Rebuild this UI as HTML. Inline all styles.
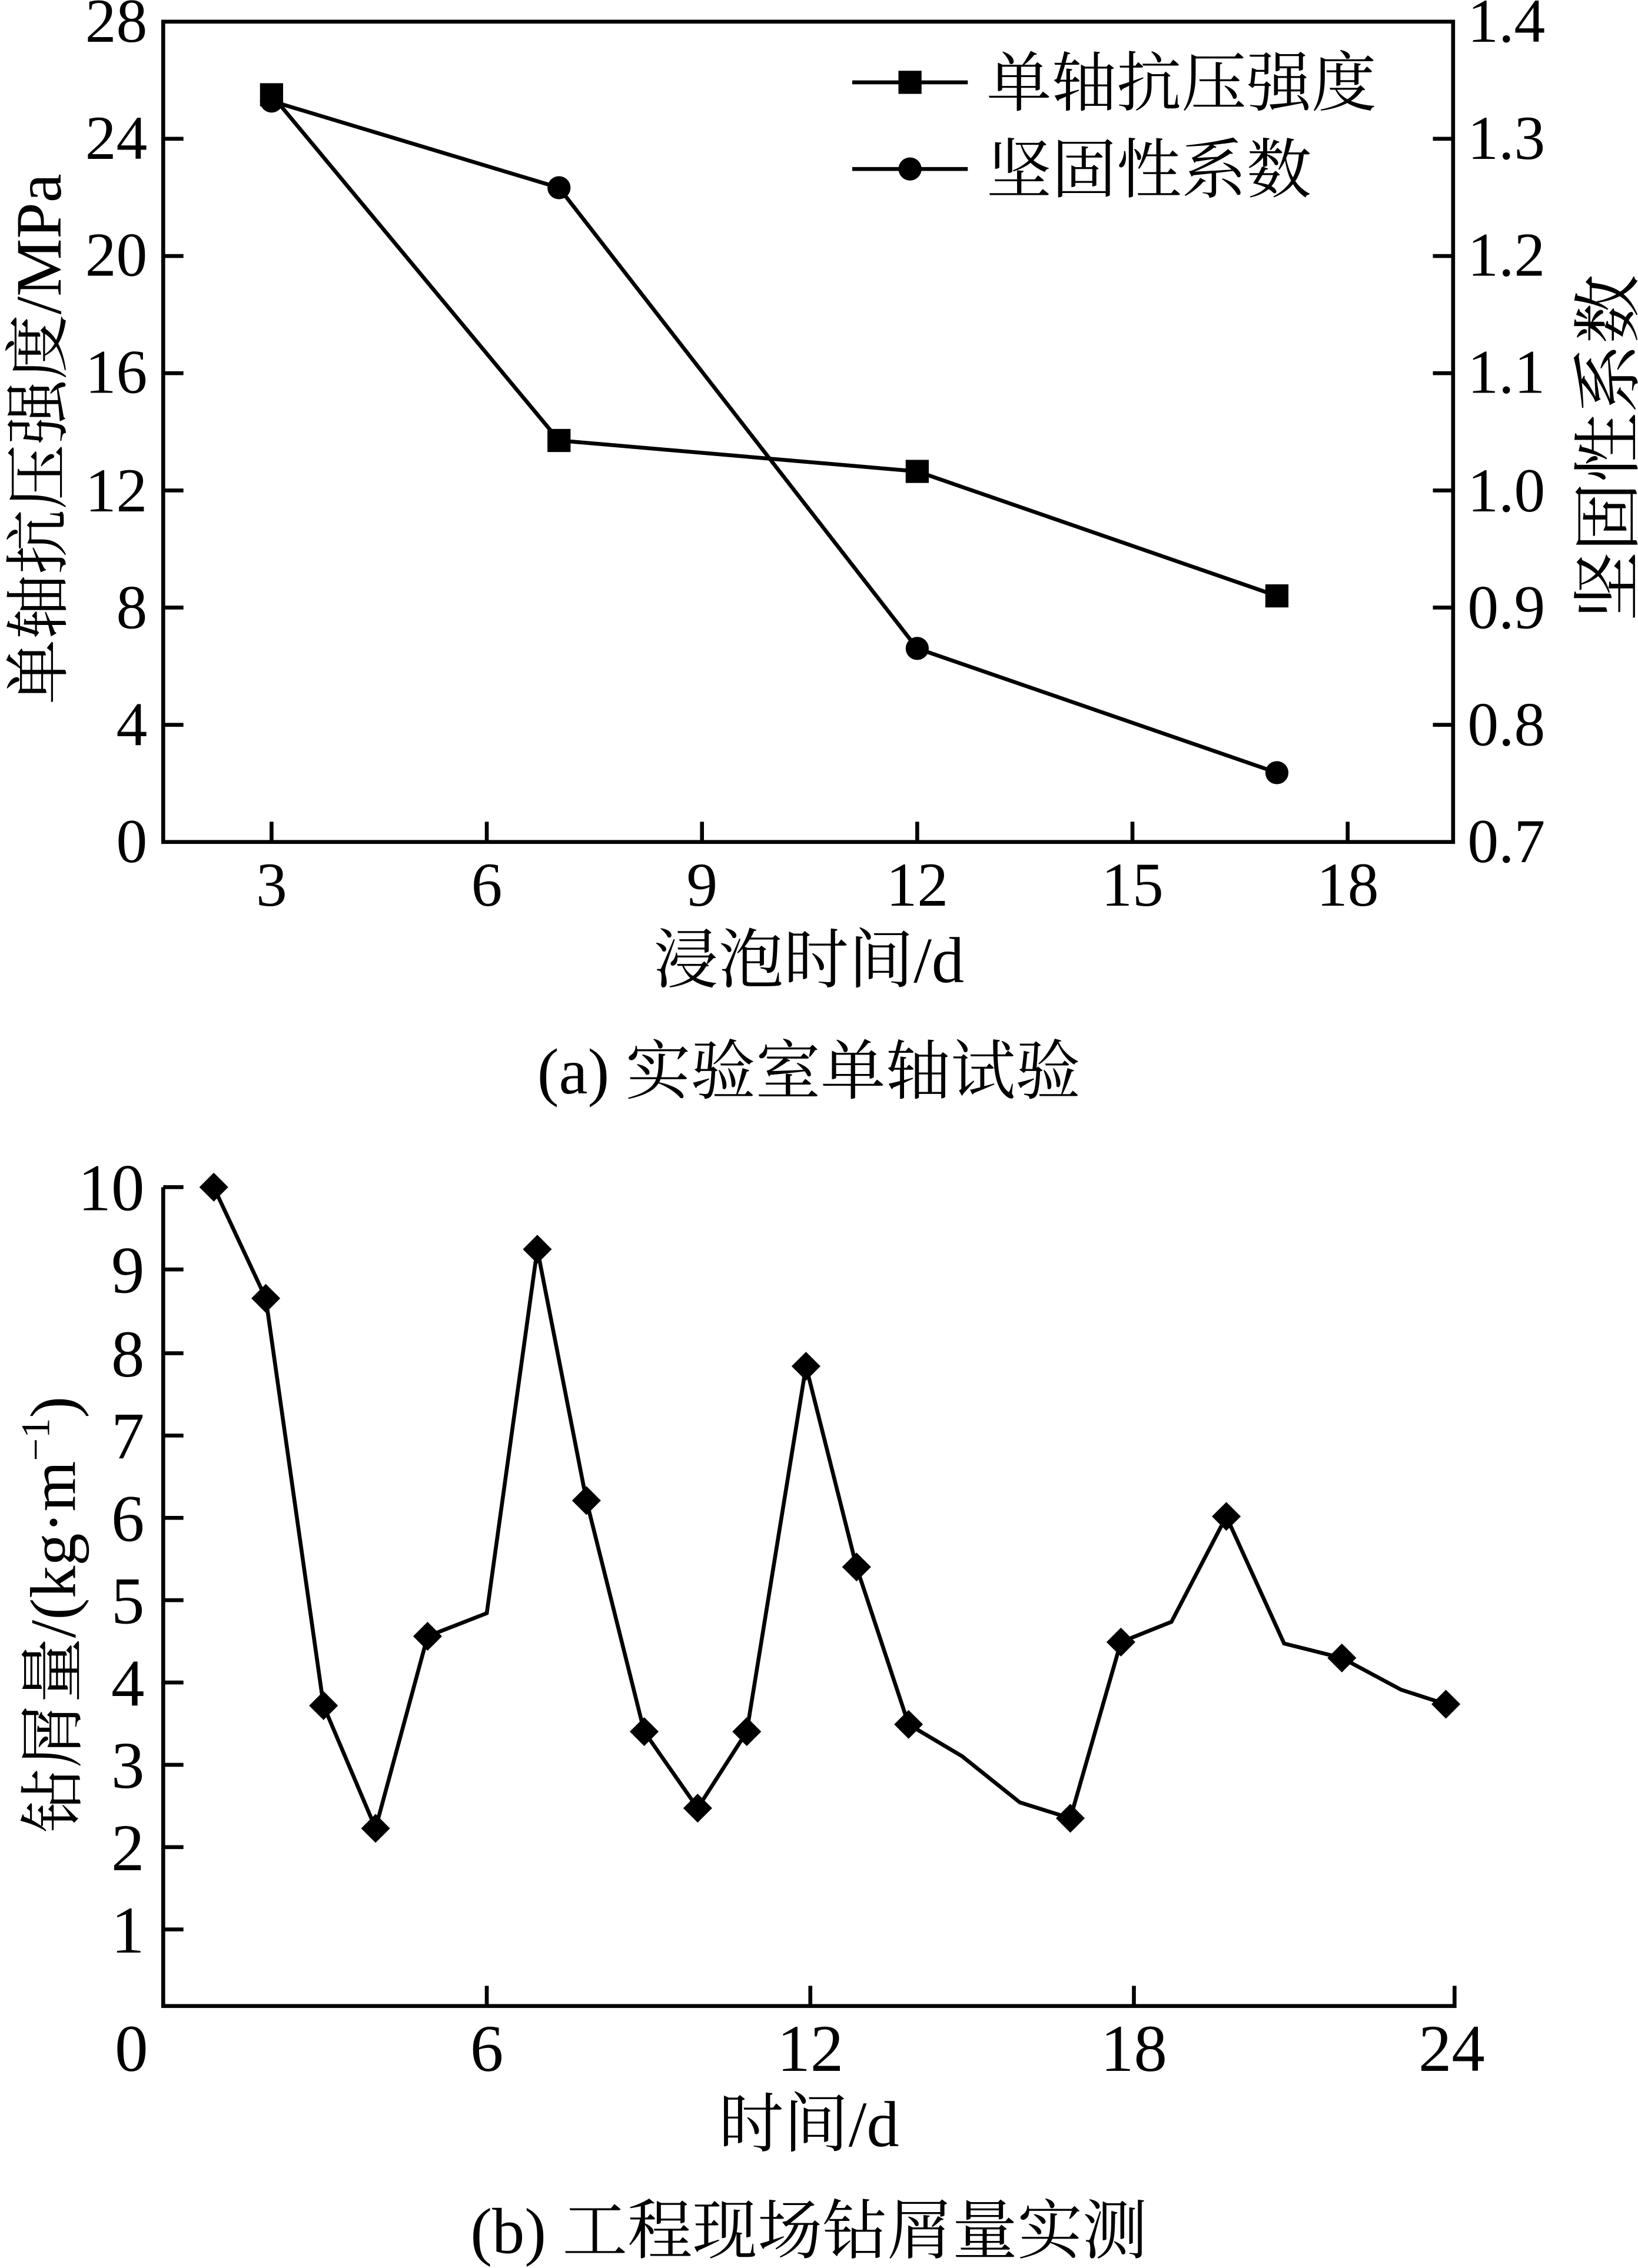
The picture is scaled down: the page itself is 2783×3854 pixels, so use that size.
<!DOCTYPE html>
<html><head><meta charset="utf-8"><style>
html,body{margin:0;padding:0;background:#fff;}
svg{display:block;}
text{font-family:"Liberation Serif","Noto Serif CJK SC",serif;fill:#000;}
</style></head><body>
<svg width="2783" height="3854" viewBox="0 0 1134 1570.4" preserveAspectRatio="none" xmlns="http://www.w3.org/2000/svg">
<g stroke="#000" stroke-width="2.7" fill="none">
<rect x="113" y="15" width="893" height="568"/>
<path d="M188 583v-14M337 583v-14M486 583v-14M635 583v-14M784 583v-14M933 583v-14"/>
<path d="M113 501.9h14M113 420.7h14M113 339.6h14M113 258.4h14M113 177.3h14M113 96.1h14"/>
<path d="M1006 501.9h-14M1006 420.7h-14M1006 339.6h-14M1006 258.4h-14M1006 177.3h-14M1006 96.1h-14"/>
<polyline points="188,65.6 387,305 635,326.4 884,412.6"/>
<polyline points="188,70 387,130 635,449 884,535"/>
<path d="M590 57h80M590 117h80"/>
<path d="M113 822V1389H1007V1375"/>
<path d="M337 1389v-14M561 1389v-14M785 1389v-14"/>
<path d="M113 1336h14M113 1279h14M113 1222h14M113 1165h14M113 1108h14M113 1051h14M113 994h14M113 937h14M113 879h14M113 822h14"/>
<polyline points="148,822 184,899 224,1181 260,1266 296,1133 337,1117 372,865 406,1039 446,1199 483,1252 517,1199 558,946 593,1085 629,1194 666,1216 706,1248 741,1259 776,1137 811,1123 849,1050 889,1138 929,1148 970,1170 1001,1180"/>
</g>
<g fill="#000">
<rect x="180" y="57.6" width="16" height="16"/>
<rect x="379" y="297" width="16" height="16"/>
<rect x="627" y="318.4" width="16" height="16"/>
<rect x="876" y="404.6" width="16" height="16"/>
<circle cx="188" cy="70" r="8"/><circle cx="387" cy="130" r="8"/><circle cx="635" cy="449" r="8"/><circle cx="884" cy="535" r="8"/>
<rect x="622" y="49" width="16" height="16"/>
<circle cx="630" cy="117" r="8"/>
<path d="M148 812l10 10-10 10-10-10z"/><path d="M184 889l10 10-10 10-10-10z"/><path d="M224 1171l10 10-10 10-10-10z"/><path d="M260 1256l10 10-10 10-10-10z"/><path d="M296 1123l10 10-10 10-10-10z"/><path d="M372 855l10 10-10 10-10-10z"/><path d="M406 1029l10 10-10 10-10-10z"/><path d="M446 1189l10 10-10 10-10-10z"/><path d="M483 1242l10 10-10 10-10-10z"/><path d="M517 1189l10 10-10 10-10-10z"/><path d="M558 936l10 10-10 10-10-10z"/><path d="M593 1075l10 10-10 10-10-10z"/><path d="M629 1184l10 10-10 10-10-10z"/><path d="M741 1249l10 10-10 10-10-10z"/><path d="M776 1127l10 10-10 10-10-10z"/><path d="M849 1040l10 10-10 10-10-10z"/><path d="M929 1138l10 10-10 10-10-10z"/><path d="M1001 1170l10 10-10 10-10-10z"/>
</g>
<g font-size="43" text-anchor="end">
<text x="102" y="597">0</text><text x="102" y="516">4</text><text x="102" y="435">8</text><text x="102" y="354">12</text><text x="102" y="272">16</text><text x="102" y="191">20</text><text x="102" y="110">24</text><text x="102" y="29">28</text>
</g>
<g font-size="43" text-anchor="start">
<text x="1016" y="597">0.7</text><text x="1016" y="516">0.8</text><text x="1016" y="435">0.9</text><text x="1016" y="354">1.0</text><text x="1016" y="272">1.1</text><text x="1016" y="191">1.2</text><text x="1016" y="110">1.3</text><text x="1016" y="29">1.4</text>
</g>
<g font-size="43" text-anchor="middle">
<text x="188" y="627">3</text><text x="337" y="627">6</text><text x="486" y="627">9</text><text x="635" y="627">12</text><text x="784" y="627">15</text><text x="933" y="627">18</text>
</g>
<text x="683" y="73" font-size="45">单轴抗压强度</text>
<text x="683" y="133" font-size="45">坚固性系数</text>
<text transform="translate(42,304) rotate(-90)" font-size="45" text-anchor="middle">单轴抗压强度/MPa</text>
<text transform="translate(1130,310) rotate(-90)" font-size="48" text-anchor="middle">坚固性系数</text>
<text x="560" y="680" font-size="45" text-anchor="middle">浸泡时间/d</text>
<text x="560" y="757" font-size="45" text-anchor="middle">(a) 实验室单轴试验</text>
<g font-size="46" text-anchor="end">
<text x="100" y="1352">1</text><text x="100" y="1295">2</text><text x="100" y="1238">3</text><text x="100" y="1181">4</text><text x="100" y="1124">5</text><text x="100" y="1067">6</text><text x="100" y="1010">7</text><text x="100" y="953">8</text><text x="100" y="895">9</text><text x="100" y="838">10</text>
</g>
<g font-size="46" text-anchor="middle">
<text x="91" y="1434">0</text><text x="337" y="1434">6</text><text x="561" y="1434">12</text><text x="785" y="1434">18</text><text x="1005" y="1434">24</text>
</g>
<text transform="translate(52,1118) rotate(-90)" font-size="45" text-anchor="middle">钻屑量/(kg·m<tspan font-size="28" dy="-18">−1</tspan><tspan dy="18">)</tspan></text>
<text x="560" y="1486" font-size="45" text-anchor="middle">时间/d</text>
<text x="560" y="1560" font-size="45" text-anchor="middle">(b) 工程现场钻屑量实测</text>
</svg>
</body></html>
